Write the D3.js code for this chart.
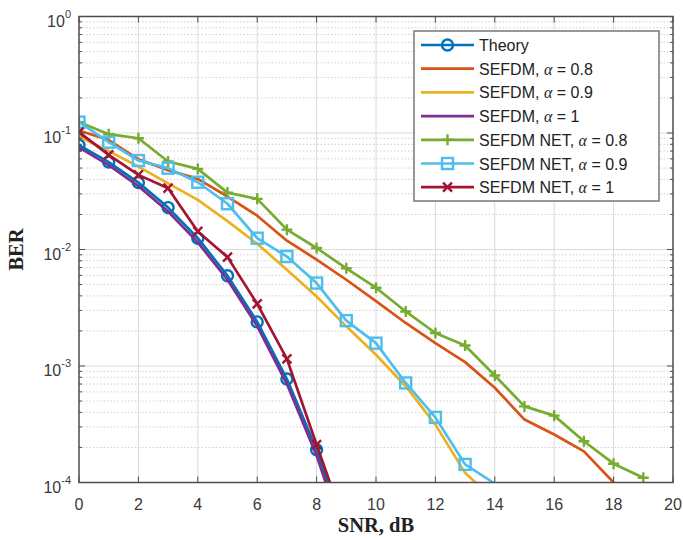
<!DOCTYPE html>
<html>
<head>
<meta charset="utf-8">
<script src="https://cdn.jsdelivr.net/npm/d3@7"></script>
<style>
    body { margin: 0; background: #fff; }
    svg { display: block; }
</style>
</head>
<body>
<svg id="chart" width="683" height="540"></svg>
<script>
// values
var snr = [0, 1, 2, 3, 4, 5, 6, 7, 8, 9, 10, 11, 12, 13, 14, 15, 16, 17, 18, 19];

var theory = [0.0786, 0.0563, 0.0375, 0.0229, 0.0125, 0.00595, 0.00239, 0.000773, 0.000191, 0.0000336];
var sefdm08 = [0.105, 0.087, 0.0596, 0.048, 0.0404, 0.0285, 0.0195, 0.0119, 0.0082, 0.0055, 0.0036, 0.00234, 0.00157, 0.00108, 0.00065, 0.000347, 0.000258, 0.000185, 0.0001];
var sefdm09 = [0.093, 0.07, 0.0515, 0.037, 0.0267, 0.0175, 0.0112, 0.0067, 0.00395, 0.00219, 0.00125, 0.00067, 0.000314, 0.000121, 0.00007];
var sefdm1 = [0.075, 0.053, 0.035, 0.0212, 0.0115, 0.0055, 0.0022, 0.0007, 0.00017, 0.00003];
var net08 = [0.124, 0.0977, 0.0902, 0.0569, 0.0492, 0.0308, 0.0272, 0.0148, 0.0103, 0.0069, 0.0047, 0.00294, 0.00192, 0.0015, 0.00083, 0.00045, 0.000375, 0.000226, 0.000145, 0.00011];
var net09 = [0.124, 0.0834, 0.058, 0.0499, 0.0378, 0.0247, 0.0125, 0.0087, 0.00515, 0.00245, 0.00157, 0.000715, 0.000362, 0.000143, 0.000098];
var net1 = [0.1016, 0.0649, 0.0437, 0.0336, 0.0143, 0.0086, 0.00342, 0.00115, 0.000211, 0.00004];

var xTicks = [0, 2, 4, 6, 8, 10, 12, 14, 16, 18, 20];
var yDecades = [0, -1, -2, -3, -4];

var series = [
    {name: "Theory", alpha: null, values: theory, color: "#0072BD", marker: "circle"},
    {name: "SEFDM", alpha: "0.8", values: sefdm08, color: "#D95319", marker: null},
    {name: "SEFDM", alpha: "0.9", values: sefdm09, color: "#EDB120", marker: null},
    {name: "SEFDM", alpha: "1", values: sefdm1, color: "#7E2F8E", marker: null},
    {name: "SEFDM NET", alpha: "0.8", values: net08, color: "#77AC30", marker: "plus"},
    {name: "SEFDM NET", alpha: "0.9", values: net09, color: "#4DBEEE", marker: "square"},
    {name: "SEFDM NET", alpha: "1", values: net1, color: "#A2142F", marker: "cross"}
];

var pLeft = 79, pRight = 673, pTop = 16.5, pBottom = 482.5;

var svg = d3.select("#chart");

var x = d3.scaleLinear().domain([0, 20]).range([pLeft, pRight]);
var y = d3.scaleLog().domain([1e-4, 1]).range([pBottom, pTop]);

svg.append("defs").append("clipPath")
    .attr("id", "plotClip")
    .append("rect")
    .attr("x", pLeft).attr("y", pTop)
    .attr("width", pRight - pLeft).attr("height", pBottom - pTop);

// minor horizontal grid (dotted)
var minorVals = [];
for (var d = -4; d < 0; d++) {
    for (var m = 2; m <= 9; m++) {
        minorVals.push(m * Math.pow(10, d));
    }
}
svg.append("g").selectAll("line.minor").data(minorVals).enter().append("line")
    .attr("x1", pLeft).attr("x2", pRight)
    .attr("y1", d => y(d)).attr("y2", d => y(d))
    .attr("stroke", "#d0d0d0")
    .attr("stroke-width", 1)
    .attr("stroke-dasharray", "1.5,2");

// major grid
svg.append("g").selectAll("line").data(xTicks.slice(1, -1)).enter().append("line")
    .attr("x1", d => x(d)).attr("x2", d => x(d))
    .attr("y1", pTop).attr("y2", pBottom)
    .attr("stroke", "#dadada").attr("stroke-width", 1);
svg.append("g").selectAll("line").data(yDecades.slice(1, -1)).enter().append("line")
    .attr("x1", pLeft).attr("x2", pRight)
    .attr("y1", d => y(Math.pow(10, d))).attr("y2", d => y(Math.pow(10, d)))
    .attr("stroke", "#dadada").attr("stroke-width", 1);

// curves
var line = d3.line()
    .x((d, i) => x(snr[i]))
    .y(d => y(d));

var plot = svg.append("g").attr("clip-path", "url(#plotClip)");

function drawMarker(g, type, color, cx, cy) {
    if (type === "circle") {
        g.append("circle").attr("cx", cx).attr("cy", cy).attr("r", 5.5)
            .attr("fill", "none").attr("stroke", color).attr("stroke-width", 2.4);
    } else if (type === "square") {
        g.append("rect").attr("x", cx - 5.5).attr("y", cy - 5.5)
            .attr("width", 11).attr("height", 11)
            .attr("fill", "none").attr("stroke", color).attr("stroke-width", 2.4);
    } else if (type === "plus") {
        g.append("path").attr("d", "M" + (cx - 5.5) + "," + cy + "H" + (cx + 5.5) + "M" + cx + "," + (cy - 5.5) + "V" + (cy + 5.5))
            .attr("stroke", color).attr("stroke-width", 2.4);
    } else if (type === "cross") {
        g.append("path").attr("d", "M" + (cx - 4.5) + "," + (cy - 4.5) + "L" + (cx + 4.5) + "," + (cy + 4.5) + "M" + (cx - 4.5) + "," + (cy + 4.5) + "L" + (cx + 4.5) + "," + (cy - 4.5))
            .attr("stroke", color).attr("stroke-width", 2.4);
    }
}

// draw order like the matlab plot: theory first, then the rest
series.forEach(function (s) {
    plot.append("path")
        .datum(s.values)
        .attr("fill", "none")
        .attr("stroke", s.color)
        .attr("stroke-width", 2.7)
        .attr("stroke-linejoin", "round")
        .attr("d", line);
    if (s.marker) {
        var mg = plot.append("g");
        s.values.forEach(function (v, i) {
            if (v >= 1e-4) drawMarker(mg, s.marker, s.color, x(snr[i]), y(v));
        });
    }
});

// axes box + inward ticks
var axisColor = "#4d4d4d";
var ticks = svg.append("g").attr("stroke", axisColor).attr("stroke-width", 1);
xTicks.forEach(function (t) {
    ticks.append("line").attr("x1", x(t)).attr("x2", x(t)).attr("y1", pBottom).attr("y2", pBottom - 6);
    ticks.append("line").attr("x1", x(t)).attr("x2", x(t)).attr("y1", pTop).attr("y2", pTop + 6);
});
yDecades.forEach(function (dd) {
    var yy = y(Math.pow(10, dd));
    ticks.append("line").attr("x1", pLeft).attr("x2", pLeft + 6).attr("y1", yy).attr("y2", yy);
    ticks.append("line").attr("x1", pRight).attr("x2", pRight - 6).attr("y1", yy).attr("y2", yy);
});
minorVals.forEach(function (v) {
    ticks.append("line").attr("x1", pLeft).attr("x2", pLeft + 3).attr("y1", y(v)).attr("y2", y(v));
    ticks.append("line").attr("x1", pRight).attr("x2", pRight - 3).attr("y1", y(v)).attr("y2", y(v));
});
svg.append("rect")
    .attr("x", pLeft).attr("y", pTop)
    .attr("width", pRight - pLeft).attr("height", pBottom - pTop)
    .attr("fill", "none").attr("stroke", axisColor).attr("stroke-width", 1.5);

// tick labels
var labelColor = "#3a3a3a";
svg.append("g").selectAll("text").data(xTicks).enter().append("text")
    .attr("x", d => x(d))
    .attr("y", pBottom + 27)
    .attr("text-anchor", "middle")
    .attr("font-family", "Liberation Sans, Arial, sans-serif")
    .attr("font-size", 16)
    .attr("fill", labelColor)
    .text(d => d);

var yl = svg.append("g").selectAll("text").data(yDecades).enter().append("text")
    .attr("x", 71)
    .attr("y", d => y(Math.pow(10, d)) + 10)
    .attr("text-anchor", "end")
    .attr("font-family", "Liberation Sans, Arial, sans-serif")
    .attr("font-size", 16)
    .attr("fill", labelColor);
yl.append("tspan").text("10");
yl.append("tspan").attr("dy", -9).attr("font-size", 11).text(d => d === 0 ? "0" : "-" + Math.abs(d));

// axis titles
svg.append("text")
    .attr("x", (pLeft + pRight) / 2)
    .attr("y", 532)
    .attr("text-anchor", "middle")
    .attr("font-family", "Liberation Serif, Times New Roman, serif")
    .attr("font-weight", "bold")
    .attr("font-size", 20.5)
    .attr("fill", "#222")
    .text("SNR, dB");

svg.append("text")
    .attr("transform", "translate(23," + ((pTop + pBottom) / 2) + ") rotate(-90)")
    .attr("text-anchor", "middle")
    .attr("font-family", "Liberation Serif, Times New Roman, serif")
    .attr("font-weight", "bold")
    .attr("font-size", 20.5)
    .attr("fill", "#222")
    .text("BER");

// legend
var lg = svg.append("g");
lg.append("rect")
    .attr("x", 414).attr("y", 31)
    .attr("width", 245).attr("height", 170)
    .attr("fill", "#fff").attr("stroke", "#777").attr("stroke-width", 1.5);

series.forEach(function (s, i) {
    var ly = 45 + i * 23.7;
    lg.append("line")
        .attr("x1", 421).attr("x2", 474)
        .attr("y1", ly).attr("y2", ly)
        .attr("stroke", s.color).attr("stroke-width", 2.7);
    if (s.marker) drawMarker(lg, s.marker, s.color, 447.5, ly);
    var t = lg.append("text")
        .attr("x", 479)
        .attr("y", ly + 6)
        .attr("font-family", "Liberation Sans, Arial, sans-serif")
        .attr("font-size", 16)
        .attr("fill", "#222");
    if (s.alpha === null) {
        t.text(s.name);
    } else {
        t.append("tspan").text(s.name + ", ");
        t.append("tspan").attr("font-family", "Liberation Serif, Times New Roman, serif").attr("font-style", "italic").text("α");
        t.append("tspan").text(" = " + s.alpha);
    }
});
</script>
</body>
</html>
